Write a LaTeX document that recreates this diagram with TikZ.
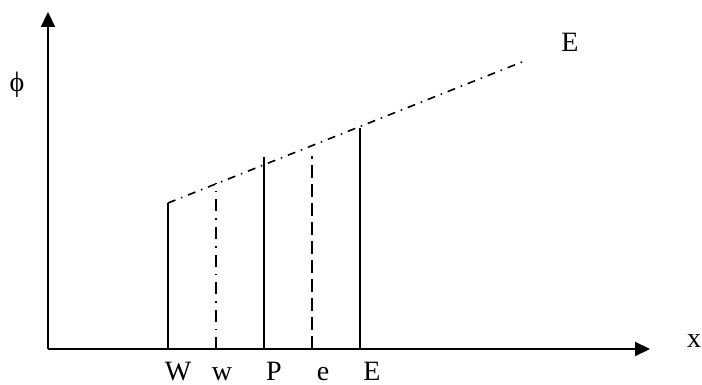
\documentclass[tikz,border=0pt]{standalone}
\usepackage{fontspec}
\setmainfont{Liberation Serif}
\usetikzlibrary{arrows.meta}
\newcommand{\lblfont}{\fontsize{28pt}{31pt}\selectfont}
\begin{document}
\begin{tikzpicture}[x=1pt,y=-1pt,
  axis/.style={line width=2.2pt,-{Triangle[length=15pt,width=14pt]}},
  grid/.style={line width=1.6pt},
  dashdot/.style={line width=1.6pt,dash pattern=on 12pt off 7pt on 1.5pt off 7pt},
  slope/.style={line width=1.6pt,dash pattern=on 8pt off 6pt on 1.5pt off 6pt},
  dashedline/.style={line width=1.6pt,dash pattern=on 13pt off 6pt},
  lbl/.style={font=\lblfont,inner sep=0pt,anchor=base}]
\useasboundingbox (0,0) rectangle (702,385);
\coordinate (O) at (48,349);
\coordinate (ytip) at (48,12);
\coordinate (xtip) at (650,349);
\draw[axis] (O) -- (ytip);
\draw[axis] (O) -- (xtip);
% bases
\coordinate (Wb) at (168,349);
\coordinate (wb) at (216,349);
\coordinate (Pb) at (264,349);
\coordinate (eb) at (312,349);
\coordinate (Eb) at (360,349);
% tops
\coordinate (Wt) at (168,203);
\coordinate (wt) at (216,183);
\coordinate (Pt) at (264,157);
\coordinate (et) at (312,156);
\coordinate (Et) at (360,128);
\coordinate (Lend) at (522,62);
\draw[grid] (Wb) -- (Wt);
\draw[dashdot] (wb) -- (wt);
\draw[grid] (Pb) -- (Pt);
\draw[dashedline] (eb) -- (et);
\draw[grid] (Eb) -- (Et);
\draw[slope] (Wt) -- (Lend);
% labels
\node[lbl] (phi) at (17,92) {ϕ};
\node[lbl] (xl) at (694,347) {x};
\node[lbl] (Etop) at (570,52) {E};
\node[lbl] (Wl) at (178,380) {W};
\node[lbl] (wl) at (222,380) {w};
\node[lbl] (Pl) at (274,380) {P};
\node[lbl] (el) at (323,380) {e};
\node[lbl] (El) at (372,380) {E};
\end{tikzpicture}
\end{document}
